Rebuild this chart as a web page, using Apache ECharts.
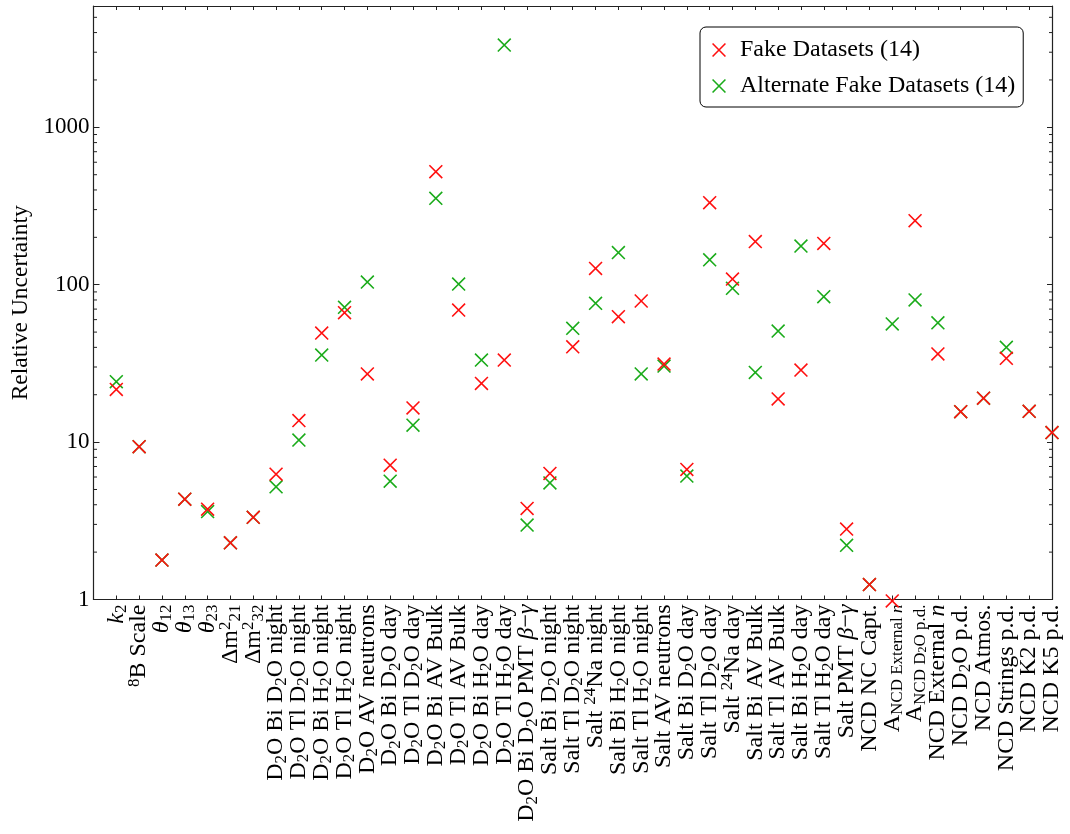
<!DOCTYPE html>
<html><head><meta charset="utf-8">
<script src="https://cdn.jsdelivr.net/npm/echarts@6/dist/echarts.min.js"></script>
<style>html,body{margin:0;padding:0;background:#fff}#c{width:1070px;height:834px}</style>
</head><body><div id="c"></div>
<script>
// markup: _{sub} ^{sup} ~{italic} %{italic sub} ,{sub-sub}
const categories = [
  '~{k}_{2}', '^{8}B Scale', '~{θ}_{12}', '~{θ}_{13}', '~{θ}_{23}',
  'Δm^{2}_{21}', 'Δm^{2}_{32}',
  'D_{2}O Bi D_{2}O night', 'D_{2}O Tl D_{2}O night', 'D_{2}O Bi H_{2}O night', 'D_{2}O Tl H_{2}O night',
  'D_{2}O AV neutrons', 'D_{2}O Bi D_{2}O day', 'D_{2}O Tl D_{2}O day', 'D_{2}O Bi AV Bulk', 'D_{2}O Tl AV Bulk',
  'D_{2}O Bi H_{2}O day', 'D_{2}O Tl H_{2}O day', 'D_{2}O Bi D_{2}O PMT ~{β}−~{γ}',
  'Salt Bi D_{2}O night', 'Salt Tl D_{2}O night', 'Salt ^{24}Na night', 'Salt Bi H_{2}O night', 'Salt Tl H_{2}O night',
  'Salt AV neutrons', 'Salt Bi D_{2}O day', 'Salt Tl D_{2}O day', 'Salt ^{24}Na day', 'Salt Bi AV Bulk', 'Salt Tl AV Bulk',
  'Salt Bi H_{2}O day', 'Salt Tl H_{2}O day', 'Salt PMT ~{β}−~{γ}', 'NCD NC Capt.',
  'A_{NCD External }%{n}', 'A_{NCD D},{2}_{O p.d.}', 'NCD External ~{n}', 'NCD D_{2}O p.d.', 'NCD Atmos.',
  'NCD Strings p.d.', 'NCD K2 p.d.', 'NCD K5 p.d.'
];
const fakeValues = [
  21.6, 9.35, 1.78, 4.34, 3.75, 2.29, 3.33, 6.26, 13.7, 49.3, 66.4,
  27.1, 7.14, 16.5, 523, 69, 23.6, 33.2, 3.79, 6.32, 40.3,
  127, 62.6, 78.8, 31.3, 6.7, 332, 108.7, 188, 18.8, 28.7,
  183, 2.80, 1.245, 0.98, 255, 36.3, 15.6, 19.0, 34.1, 15.7, 11.5
];
const altValues = [
  24.2, 9.35, 1.78, 4.34, 3.62, 2.29, 3.33, 5.2, 10.3, 35.7, 71.8,
  104, 5.65, 12.8, 354, 101, 33.2, 3330, 2.97, 5.5, 52.8,
  76.2, 160, 27.1, 30.4, 6.08, 144, 94.9, 27.7, 50.8, 176,
  83.9, 2.21, 1.245, 56.3, 80, 57.3, 15.6, 19.0, 40.0, 15.7, 11.5
];
const yTickLabels = [1, 10, 100, 1000];
const seriesNames = ['Fake Datasets (14)', 'Alternate Fake Datasets (14)'];

const FONT = 'Liberation Serif';
const RED = '#ff1010';
const GREEN = '#1aab1a';
const XMARK = 'path://M0,8L8,0L100,92L92,100ZM92,0L100,8L8,100L0,92Z';
const X_MIN = -1, X_MAX = 41.0001;

function toRich(s) {
  let out = '', buf = '', i = 0;
  const map = {'_': 'sub', '^': 'sup', '~': 'it', '%': 'subit', ',': 'subsub'};
  const flush = () => { if (buf) { out += '{n|' + buf + '}'; buf = ''; } };
  while (i < s.length) {
    const c = s[i];
    if (map[c] && s[i + 1] === '{') {
      flush();
      const j = s.indexOf('}', i + 2);
      out += '{' + map[c] + '|' + s.slice(i + 2, j) + '}';
      i = j + 1;
    } else { buf += c; i++; }
  }
  flush();
  return out;
}
const richLabels = categories.map(toRich);

const LH = 27;
const rich = {
  n: {fontFamily: FONT, fontSize: 24, lineHeight: LH, color: '#000'},
  it: {fontFamily: FONT, fontSize: 24, lineHeight: LH, fontStyle: 'italic', color: '#000'},
  sub: {fontFamily: FONT, fontSize: 17, verticalAlign: 'bottom', color: '#000'},
  subit: {fontFamily: FONT, fontSize: 17, verticalAlign: 'bottom', fontStyle: 'italic', color: '#000'},
  sup: {fontFamily: FONT, fontSize: 17, verticalAlign: 'top', color: '#000'},
  subsub: {fontFamily: FONT, fontSize: 12, verticalAlign: 'bottom', color: '#000'}
};

const minorTicks = [];
for (let p = 1; p <= 1000; p *= 10) {
  for (let m = 2; m <= 9; m++) { const v = m * p; if (v < 5900) minorTicks.push([-1, v]); }
}

function xLabel(v) {
  const i = Math.round(v);
  if (Math.abs(v - i) > 1e-6) return '';
  return (i >= 0 && i < richLabels.length) ? richLabels[i] : '';
}

const axisLineStyle = {color: '#222', width: 1.2};
const chart = echarts.init(document.getElementById('c'));
chart.setOption({
  animation: false,
  backgroundColor: '#fff',
  textStyle: {fontFamily: FONT},
  grid: {left: 93.5, top: 6, width: 958.5, height: 593.5, containLabel: false},
  legend: {
    data: seriesNames,
    orient: 'vertical',
    left: 700, top: 27,
    padding: [11, 8, 9, 12],
    itemWidth: 14, itemHeight: 14, itemGap: 12,
    borderColor: '#000', borderWidth: 1, borderRadius: 6,
    backgroundColor: '#fff',
    textStyle: {fontFamily: FONT, fontSize: 24, color: '#000', padding: [0, 0, 0, 9]}
  },
  xAxis: [{
    type: 'value', min: X_MIN, max: X_MAX, interval: 1, position: 'bottom',
    axisLine: {onZero: false, lineStyle: axisLineStyle},
    axisTick: {inside: true, length: 4, lineStyle: {color: '#222'}},
    splitLine: {show: false},
    axisLabel: {
      rotate: 90, margin: 5, fontFamily: FONT, fontSize: 24, color: '#000',
      hideOverlap: false,
      formatter: xLabel,
      rich: rich
    }
  }, {
    type: 'value', min: X_MIN, max: X_MAX, interval: 1, position: 'top',
    axisLine: {onZero: false, lineStyle: axisLineStyle},
    axisTick: {inside: true, length: 4, lineStyle: {color: '#222'}},
    splitLine: {show: false}, axisLabel: {show: false}
  }],
  yAxis: [{
    type: 'log', logBase: 10, min: 1, max: 5900, position: 'left',
    name: 'Relative Uncertainty', nameLocation: 'middle', nameGap: 61,
    nameTextStyle: {fontFamily: FONT, fontSize: 23.5, color: '#000'},
    axisLine: {show: true, onZero: false, lineStyle: axisLineStyle},
    axisTick: {show: true, inside: true, length: 6, lineStyle: {color: '#222'}},
    splitLine: {show: false},
    axisLabel: {
      margin: 4, fontFamily: FONT, fontSize: 23, color: '#000',
      formatter: v => { const t = yTickLabels.find(x => Math.abs(x - v) < 1e-6 * x); return t !== undefined ? String(t) : ''; }
    }
  }, {
    type: 'log', logBase: 10, min: 1, max: 5900, position: 'right',
    axisLine: {show: true, onZero: false, lineStyle: axisLineStyle},
    axisTick: {show: true, inside: true, length: 5, lineStyle: {color: '#222'}},
    splitLine: {show: false}, axisLabel: {show: false}
  }],
  series: [{
    type: 'custom', name: 'minor', silent: true, clip: false,
    xAxisIndex: 0, yAxisIndex: 0,
    data: minorTicks,
    encode: {x: 0, y: 1},
    renderItem: (params, api) => {
      const v = api.value(1);
      const pL = api.coord([X_MIN, v]);
      const pR = api.coord([X_MAX, v]);
      return {type: 'group', children: [
        {type: 'line', shape: {x1: pL[0], y1: pL[1], x2: pL[0] + 3.5, y2: pL[1]}, style: {stroke: '#222', lineWidth: 1}},
        {type: 'line', shape: {x1: pR[0] - 3, y1: pR[1], x2: pR[0], y2: pR[1]}, style: {stroke: '#222', lineWidth: 1}}
      ]};
    }
  }, {
    type: 'scatter', name: seriesNames[1], clip: false,
    symbol: XMARK, symbolSize: 14, symbolKeepAspect: true,
    itemStyle: {color: GREEN, opacity: 1},
    data: altValues.map((v, i) => [i, v]), z: 3
  }, {
    type: 'scatter', name: seriesNames[0], clip: false,
    symbol: XMARK, symbolSize: 14, symbolKeepAspect: true,
    itemStyle: {color: RED, opacity: 1},
    data: fakeValues.map((v, i) => [i, v]), z: 4
  }]
});
</script>
</body></html>
